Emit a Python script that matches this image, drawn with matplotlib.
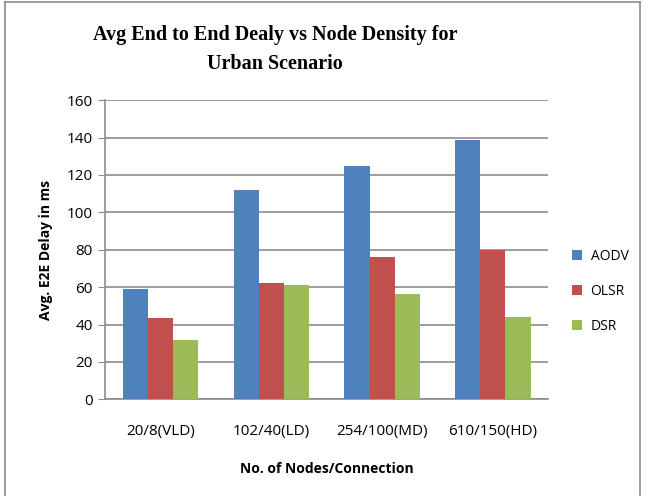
import numpy as np
import matplotlib.pyplot as plt
from matplotlib.lines import Line2D

categories = ['20/8(VLD)', '102/40(LD)', '254/100(MD)', '610/150(HD)']
aodv = [59, 112, 124.7, 138.8]
olsr = [43.3, 62, 76.2, 79.8]
dsr = [31.5, 61.3, 56.1, 44.1]

series = [('AODV', aodv, '#4f81bd'), ('OLSR', olsr, '#c0504d'), ('DSR', dsr, '#9bbb59')]

fig = plt.figure(figsize=(6.45, 4.96), dpi=100)
ax = fig.add_axes([0.163, 0.195, 0.687, 0.603])

x = np.arange(len(categories))
w = 0.227
for i, (name, vals, col) in enumerate(series):
    ax.bar(x + (i - 1) * w, vals, width=w, color=col, label=name, zorder=3)

ax.set_xlim(-0.5, len(categories) - 0.5)
ax.set_ylim(0, 160)
ax.set_yticks(np.arange(0, 161, 20))
ax.set_xticks(x)
ax.set_xticklabels(categories, fontsize=11, family='Open Sans')
for lab in ax.get_yticklabels():
    lab.set_fontsize(11)
    lab.set_family('Open Sans')
ax.grid(axis='y', color='#8c8c8c', linewidth=1.2, zorder=0)
for s in ['top', 'right']:
    ax.spines[s].set_visible(False)
ax.spines['left'].set_color('#8c8c8c')
ax.spines['bottom'].set_color('#8c8c8c')
ax.spines['left'].set_linewidth(1.2)
ax.spines['bottom'].set_linewidth(1.2)
ax.tick_params(axis='x', length=0, pad=18)
ax.tick_params(axis='y', length=5, color='#8c8c8c', pad=4)

ax.set_xlabel('No. of Nodes/Connection', fontsize=10, fontweight='bold',
              family='Open Sans', labelpad=16)
ax.set_ylabel('Avg. E2E Delay in ms', fontsize=10, fontweight='bold',
              family='Open Sans', labelpad=10)

fig.text(0.426, 0.901, 'Avg End to End Dealy vs Node Density for\nUrban Scenario',
         ha='center', va='center', multialignment='center', fontsize=14.5,
         fontweight='bold', family='Liberation Serif', linespacing=1.6)

ax.legend(loc='center left', bbox_to_anchor=(1.025, 0.36), frameon=False,
          prop={'family': 'Open Sans', 'size': 10},
          handlelength=0.75, handleheight=0.75, labelspacing=1.45, handletextpad=0.6)

# outer frame of the chart area
fig.add_artist(Line2D([0.007, 0.007], [0.0, 0.996], transform=fig.transFigure, color='#8c8c8c', lw=1.2))
fig.add_artist(Line2D([0.007, 0.993], [0.996, 0.996], transform=fig.transFigure, color='#8c8c8c', lw=1.2))
fig.add_artist(Line2D([0.993, 0.993], [0.0, 0.996], transform=fig.transFigure, color='#8c8c8c', lw=1.2))

fig.savefig('out.png', dpi=100)
